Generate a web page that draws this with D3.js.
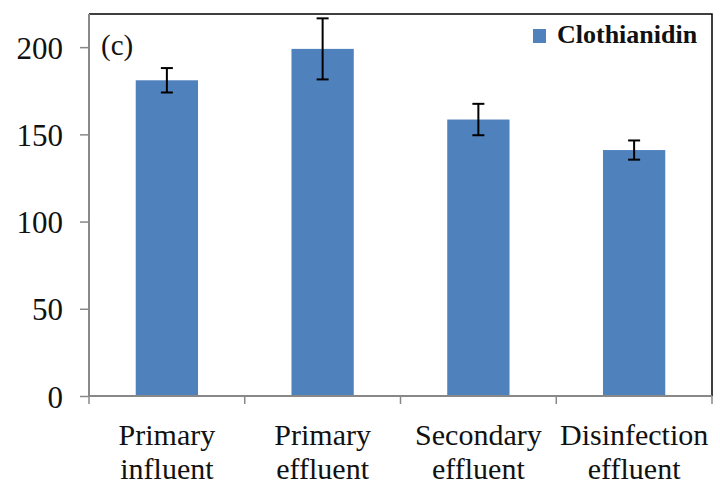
<!DOCTYPE html>
<html><head><meta charset="utf-8">
<script src="https://cdn.jsdelivr.net/npm/d3@7"></script>
<style>body{margin:0;background:#fff}svg{display:block}</style>
</head><body>
<svg id="c" width="720" height="485"></svg>
<script>
const categories = [["Primary","influent"],["Primary","effluent"],["Secondary","effluent"],["Disinfection","effluent"]];
const values = [181, 199, 158.5, 141];
const errors = [7, 17.5, 9, 5.5];
const yTicks = [0, 50, 100, 150, 200];
const seriesName = "Clothianidin";
const panelLabel = "(c)";

const svg = d3.select("#c");
const L = 89, R = 712, T = 14, B = 396;
const x = d3.scaleBand().domain(d3.range(categories.length)).range([L, R]).paddingInner(0.6).paddingOuter(0.3);
const y = d3.scaleLinear().domain([0, 219]).range([B, T]);
const font = "'Liberation Serif','Times New Roman',serif";

// bars
svg.selectAll("rect.bar").data(values).enter().append("rect")
  .attr("x", (d,i)=>x(i)).attr("width", x.bandwidth())
  .attr("y", d=>y(d)).attr("height", d=>B - y(d))
  .attr("fill", "#4F81BD");

// error bars
const eg = svg.append("g").attr("stroke", "#000").attr("stroke-width", 2);
values.forEach((v,i)=>{
  const cx = x(i) + x.bandwidth()/2;
  eg.append("line").attr("x1", cx).attr("x2", cx).attr("y1", y(v+errors[i])).attr("y2", y(v-errors[i]));
  [v+errors[i], v-errors[i]].forEach(e=>{
    eg.append("line").attr("x1", cx-6).attr("x2", cx+6).attr("y1", y(e)).attr("y2", y(e));
  });
});

// frame top/right
svg.append("path").attr("d", `M${L},${T}H${R}V${B}`).attr("fill","none").attr("stroke","#000").attr("stroke-width",1.5);

// y axis
const yAxis = svg.append("g").attr("transform", `translate(${L},0)`)
  .call(d3.axisLeft(y).tickValues(yTicks).tickSize(9).tickPadding(17).tickSizeOuter(0));
yAxis.select(".domain").attr("stroke", "#888").attr("stroke-width", 2).attr("d", `M0,${T}V${B}`);
yAxis.selectAll(".tick line").attr("stroke", "#888").attr("stroke-width", 1.5);
yAxis.selectAll("text").attr("font-family", font).attr("font-size", 31).attr("fill", "#111").attr("dy", "0.36em");

// x axis
const xs = d3.scaleLinear().domain([0, categories.length]).range([L, R]);
const xg = svg.append("g");
xg.append("line").attr("x1", L).attr("x2", R).attr("y1", B).attr("y2", B).attr("stroke", "#888").attr("stroke-width", 2);
d3.range(categories.length+1).forEach(k=>{
  xg.append("line").attr("x1", xs(k)).attr("x2", xs(k)).attr("y1", B).attr("y2", B+8).attr("stroke","#888").attr("stroke-width",1.5);
});
categories.forEach((c,i)=>{
  const cx = x(i) + x.bandwidth()/2;
  const t = xg.append("text").attr("x", cx).attr("text-anchor","middle").attr("font-family", font).attr("font-size", 30).attr("fill","#111");
  t.append("tspan").attr("x", cx).attr("y", 445).text(c[0]);
  t.append("tspan").attr("x", cx).attr("y", 479).text(c[1]);
});

// panel label
svg.append("text").attr("x", 101).attr("y", 55).attr("font-family", font).attr("font-size", 29).attr("fill","#111").text(panelLabel);

// legend
svg.append("rect").attr("x", 533).attr("y", 29).attr("width", 13).attr("height", 14).attr("fill", "#4F81BD");
svg.append("text").attr("x", 557).attr("y", 43).attr("font-family", font).attr("font-weight","bold").attr("font-size", 26).attr("fill","#111").text(seriesName);
</script>
</body></html>
